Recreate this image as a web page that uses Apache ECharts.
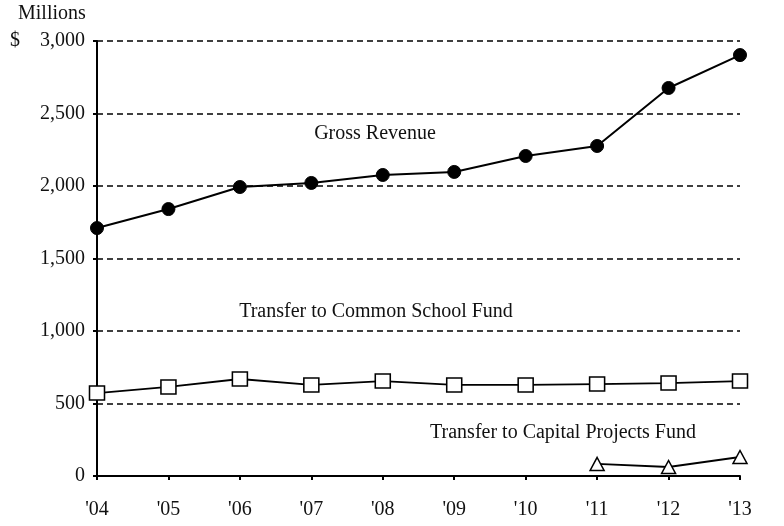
<!DOCTYPE html>
<html><head><meta charset="utf-8">
<script src="https://cdn.jsdelivr.net/npm/echarts@6/dist/echarts.min.js"></script>
<style>html,body{margin:0;padding:0;background:#fff}#c{width:784px;height:526px}</style>
</head><body><div id="c"></div>
<script>
const categories = ["'04","'05","'06","'07","'08","'09","'10","'11","'12","'13"];
const grossRevenue = [1710, 1841, 1993, 2021, 2076, 2097, 2207, 2276, 2676, 2903];
const commonSchool = [572, 614, 669, 628, 655, 628, 628, 634, 641, 655];
const capitalProjects = [null, null, null, null, null, null, null, 83, 62, 131];
const yTicks = [0, 500, 1000, 1500, 2000, 2500, 3000];

const font = '"Liberation Serif", "DejaVu Serif", serif';
const chart = echarts.init(document.getElementById('c'));
chart.setOption({
  animation: false,
  backgroundColor: '#fff',
  grid: {left: 97, right: 44, top: 41, bottom: 50, containLabel: false},
  xAxis: {
    type: 'category', data: categories, boundaryGap: false,
    axisLine: {lineStyle: {color: '#000', width: 2}},
    axisTick: {show: true, length: 4, lineStyle: {color: '#000', width: 2}},
    axisLabel: {color: '#111', fontFamily: font, fontSize: 20, margin: 24},
    splitLine: {show: false}
  },
  yAxis: {
    type: 'value', min: 0, max: 3000, interval: 500,
    axisLine: {show: true, lineStyle: {color: '#000', width: 2}},
    axisTick: {show: true, length: 4, lineStyle: {color: '#000', width: 2}},
    axisLabel: {color: '#111', fontFamily: font, fontSize: 20, margin: 12,
      formatter: v => {
        const s = v.toLocaleString('en-US');
        return v === yTicks[yTicks.length-1] ? '$    ' + s : s;
      }},
    splitLine: {show: true, lineStyle: {color: '#000', width: 1.5, type: [6, 4]}}
  },
  graphic: [
    {type: 'text', left: 18, top: 4, style: {text: 'Millions', font: '20px ' + font, fill: '#111'}},
    {type: 'text', x: 375, y: 134, style: {text: 'Gross Revenue', font: '20px ' + font, fill: '#111', textAlign: 'center', textVerticalAlign: 'middle'}},
    {type: 'text', x: 376, y: 312, style: {text: 'Transfer to Common School Fund', font: '20px ' + font, fill: '#111', textAlign: 'center', textVerticalAlign: 'middle'}},
    {type: 'text', x: 563, y: 433, style: {text: 'Transfer to Capital Projects Fund', font: '20px ' + font, fill: '#111', textAlign: 'center', textVerticalAlign: 'middle'}}
  ],
  series: [
    {type: 'line', name: 'Gross Revenue', data: grossRevenue, symbol: 'circle', symbolSize: 13,
      lineStyle: {color: '#000', width: 2}, itemStyle: {color: '#000', borderColor: '#000'}, z: 5},
    {type: 'line', name: 'Transfer to Common School Fund', data: commonSchool, symbol: 'rect', symbolSize: [15, 14],
      lineStyle: {color: '#000', width: 1.8}, itemStyle: {color: '#fff', borderColor: '#000', borderWidth: 1.5}, z: 5},
    {type: 'line', name: 'Transfer to Capital Projects Fund', data: capitalProjects, symbol: 'triangle', symbolSize: [14, 13],
      lineStyle: {color: '#000', width: 1.8}, itemStyle: {color: '#fff', borderColor: '#000', borderWidth: 1.5}, z: 5}
  ]
});
</script></body></html>
